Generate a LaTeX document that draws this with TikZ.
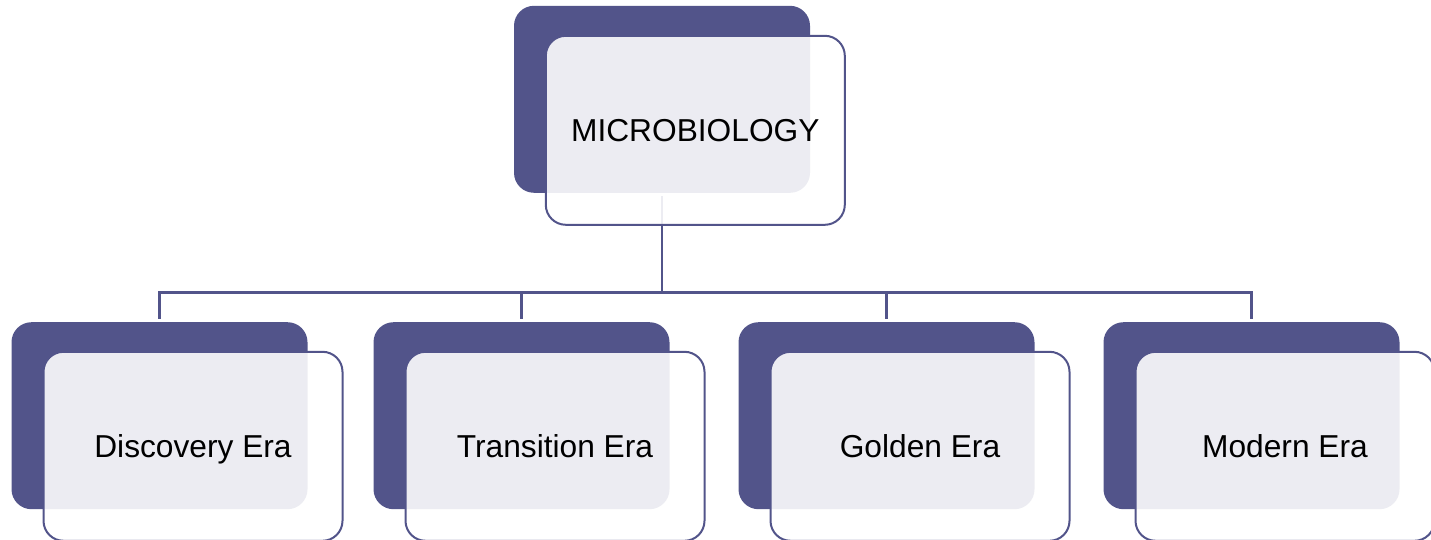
\documentclass[tikz,border=0pt]{standalone}
\usepackage{fontspec}
\setmainfont{Liberation Sans}
\definecolor{darkbox}{RGB}{82,84,138}
\begin{document}
\begin{tikzpicture}[x=1pt,y=-1pt,
  backbox/.style={draw=none,fill=darkbox,rounded corners=20pt,minimum width=296pt,minimum height=187pt,inner sep=0pt},
  frontbox/.style={draw=darkbox,line width=2pt,fill=white,fill opacity=0.89,text opacity=1,rounded corners=20pt,minimum width=299pt,minimum height=189pt,inner sep=0pt,text height=28.7pt,text depth=6pt,font=\fontsize{31.7}{38}\selectfont},
  conn/.style={draw=darkbox,line width=2.5pt}]
\useasboundingbox (0,0) rectangle (1431,540);
% back boxes
\node[backbox] (b0) at (662,99.3) {};
\node[backbox] (b1) at (159.5,415.7) {};
\node[backbox] (b2) at (521.5,415.7) {};
\node[backbox] (b3) at (886.5,415.7) {};
\node[backbox] (b4) at (1251.5,415.7) {};
% connectors
\coordinate (j) at (662,292.5);
\foreach \i in {1,2,3,4}{
  \draw[conn,shorten <=3pt,shorten >=3pt] (b0.south) -- (j) -| (b\i.north);
}
% front boxes
\node[frontbox] (f0) at (695.3,130.3) {MICROBIOLOGY};
\node[frontbox] (f1) at (193,446.3) {Discovery Era};
\node[frontbox] (f2) at (555,446.3) {Transition Era};
\node[frontbox] (f3) at (920,446.3) {Golden Era};
\node[frontbox] (f4) at (1285,446.3) {Modern Era};
\end{tikzpicture}
\end{document}
